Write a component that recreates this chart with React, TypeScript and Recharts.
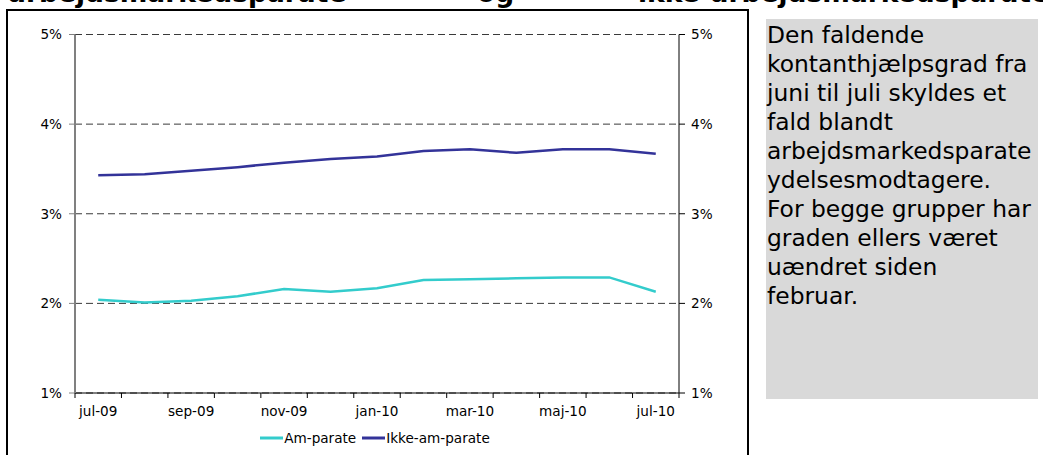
import React from 'react';
import { LineChart, Line, XAxis, YAxis, CartesianGrid, Legend } from 'recharts';

const months = ['jul-09', 'aug-09', 'sep-09', 'okt-09', 'nov-09', 'dec-09', 'jan-10', 'feb-10', 'mar-10', 'apr-10', 'maj-10', 'jun-10', 'jul-10'];
const amParate = [2.04, 2.01, 2.03, 2.08, 2.16, 2.13, 2.17, 2.26, 2.27, 2.28, 2.29, 2.29, 2.13];
const ikkeAmParate = [3.43, 3.44, 3.48, 3.52, 3.57, 3.61, 3.64, 3.70, 3.72, 3.68, 3.72, 3.72, 3.67];
const yTicks = [1, 2, 3, 4, 5];
const seriesNames = ['Am-parate', 'Ikke-am-parate'];
const seriesColors = ['#33CCCC', '#333399'];
const titleWords = ['arbejdsmarkedsparate', 'og', 'ikke-arbejdsmarkedsparate'];
const noteLines = [
  'Den faldende',
  'kontanthjælpsgrad fra',
  'juni til juli skyldes et',
  'fald blandt',
  'arbejdsmarkedsparate',
  'ydelsesmodtagere.',
  'For begge grupper har',
  'graden ellers været',
  'uændret siden',
  'februar.',
];

const data = months.map((m, i) => ({ month: m, am: amParate[i], ikke: ikkeAmParate[i] }));

const FONT = '"DejaVu Sans", Verdana, sans-serif';
const TICK_FS = 13.6;

const XTick = (props: any) => {
  const { x, y, payload, index, visibleTicksCount } = props;
  const off = payload && typeof payload.offset === 'number' ? payload.offset : 0;
  const axisY = y - 7;
  return (
    <g>
      <line x1={x - off} x2={x - off} y1={axisY} y2={axisY + 5} stroke="#000" strokeWidth={1} />
      {index === visibleTicksCount - 1 && (
        <line x1={x + off} x2={x + off} y1={axisY} y2={axisY + 5} stroke="#000" strokeWidth={1} />
      )}
      {index % 2 === 0 && (
        <text x={x} y={axisY + 22.5} textAnchor="middle" fill="#000" fontFamily={FONT} fontSize={TICK_FS}>
          {payload.value}
        </text>
      )}
    </g>
  );
};

const renderLegend = (props: any) => {
  const { payload } = props;
  return (
    <div style={{ display: 'flex', justifyContent: 'center', alignItems: 'center', height: 20, fontFamily: FONT, fontSize: TICK_FS, color: '#000' }}>
      {(payload || []).map((p: any, i: number) => (
        <div key={i} style={{ display: 'flex', alignItems: 'center', marginRight: i === 0 ? 6 : 0 }}>
          <svg width={23} height={10} style={{ display: 'block' }}>
            <line x1={0} x2={23} y1={5} y2={5} stroke={p.color} strokeWidth={3} />
          </svg>
          <span style={{ marginLeft: 1, whiteSpace: 'nowrap' }}>{p.value}</span>
        </div>
      ))}
    </div>
  );
};

export default function App() {
  return (
    <div style={{ position: 'absolute', left: 0, top: 0, width: 1043, height: 455, overflow: 'hidden', background: '#fff' }}>
      <svg width={1043} height={20} style={{ position: 'absolute', left: 0, top: 0 }}>
        <text x={8} y={2} fontFamily={FONT} fontWeight="bold" fontSize={26.5} fill="#000">{titleWords[0]}</text>
        <text x={477} y={2} fontFamily={FONT} fontWeight="bold" fontSize={26.5} fill="#000">{titleWords[1]}</text>
        <text x={638} y={2} fontFamily={FONT} fontWeight="bold" fontSize={26.5} fill="#000">{titleWords[2]}</text>
      </svg>
      <div style={{ position: 'absolute', left: 6, top: 9, width: 743, height: 500, border: '2px solid #000', boxSizing: 'border-box' }} />
      <div style={{ position: 'absolute', left: 0, top: 0 }}>
        <LineChart width={750} height={455} data={data} margin={{ top: 34.5, right: 0, bottom: 7, left: 0 }}>
          <CartesianGrid vertical={false} stroke="#3a3a3a" strokeDasharray="7 4" />
          <XAxis
            dataKey="month"
            type="category"
            scale="band"
            interval={0}
            height={35}
            tickLine={false}
            tickSize={5}
            tickMargin={2}
            axisLine={{ stroke: '#000', strokeWidth: 1 }}
            tick={<XTick />}
          />
          <YAxis
            orientation="left"
            width={75}
            domain={[1, 5]}
            ticks={yTicks}
            allowDataOverflow
            tickFormatter={(v: number) => `${v}%`}
            axisLine={{ stroke: '#808080', strokeWidth: 2 }}
            tickLine={{ stroke: '#808080' }}
            tickSize={6}
            tickMargin={7}
            tick={{ fill: '#000', fontFamily: FONT, fontSize: TICK_FS }}
          />
          <YAxis
            yAxisId="right"
            orientation="right"
            width={71}
            domain={[1, 5]}
            ticks={yTicks}
            allowDataOverflow
            tickFormatter={(v: number) => `${v}%`}
            axisLine={{ stroke: '#000', strokeWidth: 1 }}
            tickLine={{ stroke: '#000' }}
            tickSize={6}
            tickMargin={6}
            tick={{ fill: '#000', fontFamily: FONT, fontSize: TICK_FS }}
          />
          <Legend verticalAlign="bottom" align="center" content={renderLegend} />
          <Line
            type="linear"
            dataKey="am"
            name={seriesNames[0]}
            stroke={seriesColors[0]}
            strokeWidth={2.5}
            dot={false}
            isAnimationActive={false}
          />
          <Line
            type="linear"
            dataKey="ikke"
            yAxisId="right"
            name={seriesNames[1]}
            stroke={seriesColors[1]}
            strokeWidth={2.5}
            dot={false}
            isAnimationActive={false}
          />
        </LineChart>
      </div>
      <div
        style={{
          position: 'absolute',
          left: 766,
          top: 19,
          width: 272,
          height: 380,
          background: '#D9D9D9',
          fontFamily: FONT,
          fontSize: 23.4,
          lineHeight: '29px',
          color: '#000',
          paddingTop: 1.5,
          paddingLeft: 1,
          boxSizing: 'border-box',
        }}
      >
        {noteLines.map((l, i) => (
          <div key={i} style={{ whiteSpace: 'nowrap' }}>{l}</div>
        ))}
      </div>
    </div>
  );
}
